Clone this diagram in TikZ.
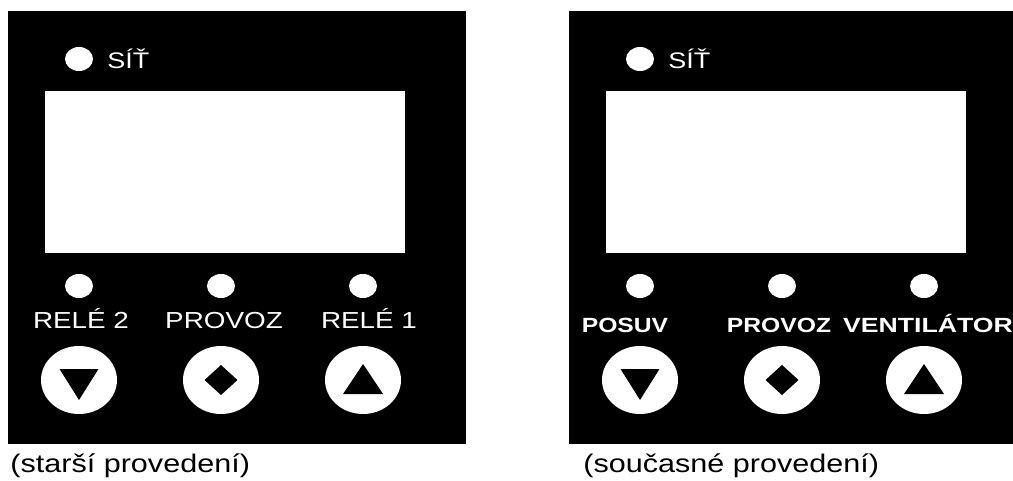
\documentclass[tikz,border=0pt]{standalone}
\usepackage{fontspec}
\setmainfont{Liberation Sans}
\usetikzlibrary{calc}

\tikzset{
  lbl/.style={text=white, inner sep=0pt, anchor=base, xscale=1.2, font=\fontsize{13.2}{15}\selectfont},
  boldlbl/.style={lbl, font=\fontsize{11.7}{14}\selectfont\bfseries},
  caption/.style={lbl, text=black, anchor=base west, font=\fontsize{14.5}{17}\selectfont},
  led/.style={fill=white},
}

% one front panel, #1 = left edge, #2 = width, #3 = name prefix
\newcommand{\Panel}[3]{%
  \begin{scope}[shift={(#1,0)}]
    \fill[black] (0,11) rectangle (#2,444);
    \fill[white] (37,91) rectangle (397,253);
    % power led
    \fill[led] (71,59) ellipse [x radius=0.28cm, y radius=0.24cm];
    \node[lbl, anchor=base west, font=\fontsize{12.8}{15}\selectfont] (#3net) at (99,68) {SÍŤ};
    % status leds and keys
    \foreach \k/\xx in {a/71, b/213, c/355} {
      \fill[led] (\xx,286) ellipse [x radius=0.28cm, y radius=0.24cm];
      \fill[white] (\xx,380) ellipse [x radius=0.76cm, y radius=0.68cm];
      \coordinate (#3key\k) at (\xx,380);
    }
    \fill[black] ($ (#3keya)+(-19.5,-11) $) -- ++(39,0) -- ($ (#3keya)+(0,20) $) -- cycle;
    \fill[black] ($ (#3keyb)+(-16.5,0) $) -- ++(16.5,-15) -- ++(16.5,15) -- ++(-16.5,15) -- cycle;
    \fill[black] ($ (#3keyc)+(-20,14) $) -- ++(40,0) -- ($ (#3keyc)+(0,-16) $) -- cycle;
  \end{scope}
}

\begin{document}
\begin{tikzpicture}[x=0.02cm, y=-0.02cm]
	\useasboundingbox (0,0) rectangle (1013,480);

	\Panel{8}{458}{old}
	\Panel{569}{444}{new}

	% older version
	\node[lbl] (oldrelb) at (81,328) {RELÉ 2};
	\node[lbl] (oldrun) at (224,328) {PROVOZ};
	\node[lbl] (oldrela) at (369,328) {RELÉ 1};
	\node[caption] (oldcap) at (10,472) {(starší provedení)};

	% current version
	\node[boldlbl] (newshift) at (625,332) {POSUV};
	\node[boldlbl] (newrun) at (779,332) {PROVOZ};
	\node[boldlbl, xscale=1.08] (newfan) at (928,332) {VENTILÁTOR};
	\node[caption] (newcap) at (583,472) {(současné provedení)};

\end{tikzpicture}
\end{document}
